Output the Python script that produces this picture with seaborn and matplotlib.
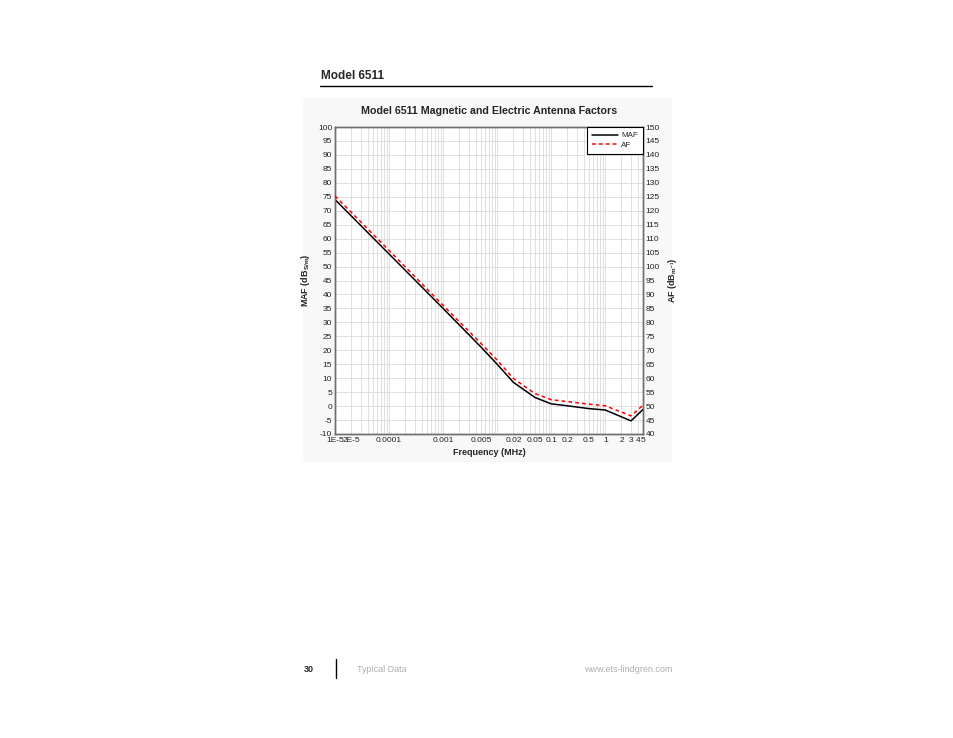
import numpy as np
import pandas as pd
import matplotlib
matplotlib.use("Agg")
import matplotlib.pyplot as plt
import matplotlib.ticker as mticker
from matplotlib.patches import Rectangle
from matplotlib.lines import Line2D
import seaborn as sns

# data
freq_mhz = [1e-5, 1e-4, 1e-3, 0.005, 0.01, 0.02, 0.05, 0.1, 0.2, 0.5, 1, 3, 5]
maf_db = [74.0, 54.5, 35.0, 21.2, 15.0, 8.5, 3.1, 0.8, 0.1, -0.9, -1.4, -5.3, -1.2]
af_db = [125.3, 105.8, 86.1, 72.5, 66.5, 59.9, 54.5, 52.3, 51.6, 50.7, 50.1, 46.5, 50.3]

xtick_vals = [1e-5, 2e-5, 1e-4, 1e-3, 0.005, 0.02, 0.05, 0.1, 0.2, 0.5, 1, 2, 3, 4, 5]
xtick_labels = ["1E-5", "2E-5", "0.0001", "0.001", "0.005", "0.02", "0.05",
                "0.1", "0.2", "0.5", "1", "2", "3", "4", "5"]

df = pd.DataFrame({"freq": freq_mhz, "MAF": maf_db, "AF": af_db})

sns.set_style("white")
plt.rcParams["font.family"] = ["Liberation Sans", "DejaVu Sans"]
plt.rcParams["axes.unicode_minus"] = False
plt.rcParams["mathtext.fontset"] = "custom"
plt.rcParams["mathtext.rm"] = "Liberation Sans:bold"
plt.rcParams["mathtext.it"] = "Liberation Sans:bold"

fig = plt.figure(figsize=(9.54, 7.38), dpi=100)

# page elements
fig.text(321 / 954, 1 - 76 / 738, "Model 6511", fontsize=8.5, fontweight="bold",
         va="center", ha="left")
fig.add_artist(Line2D([320 / 954, 652 / 954], [1 - 86 / 738] * 2, color="black", lw=1))
fig.add_artist(Rectangle((303 / 954, 1 - 462 / 738), 369 / 954, 364 / 738,
                         facecolor="#f8f8f8", edgecolor="none", zorder=-5))
fig.text(309 / 954, 1 - 669 / 738, "30", fontsize=6.5, fontweight="bold",
         va="center", ha="center")
fig.add_artist(Line2D([336 / 954] * 2, [1 - 659 / 738, 1 - 678 / 738], color="black", lw=1))
fig.text(357 / 954, 1 - 669 / 738, "Typical Data", fontsize=6.5, color="#b0b0b0",
         va="center", ha="left")
fig.text(672 / 954, 1 - 669 / 738, "www.ets-lindgren.com", fontsize=6.5, color="#b0b0b0",
         va="center", ha="right")

ax = fig.add_axes([335 / 954, 1 - 434 / 738, 308 / 954, 307 / 738])
ax.set_facecolor("white")
ax2 = ax.twinx()

sns.lineplot(data=df, x="freq", y="MAF", ax=ax, color="black", lw=1.1, zorder=4)
sns.lineplot(data=df, x="freq", y="AF", ax=ax2, color="red", lw=1.1,
             linestyle=(0, (2.5, 2)), zorder=4)

ax.set_xscale("log")
ax.set_xlim(1e-5, 5)
ax.set_ylim(-10, 100)
ax2.set_ylim(40, 150)
ax.set_yticks(np.arange(-10, 101, 5))
ax2.set_yticks(np.arange(40, 151, 5))

ax.xaxis.set_major_locator(mticker.FixedLocator(xtick_vals))
ax.xaxis.set_major_formatter(mticker.FixedFormatter(xtick_labels))
ax.xaxis.set_minor_locator(mticker.NullLocator())

# grid: horizontal each 5, vertical at log minors
for y in np.arange(-5, 100, 5):
    ax.axhline(y, color="#dadada", lw=0.6, zorder=1)
for dec in range(-5, 1):
    for m in range(1, 10):
        v = m * 10.0 ** dec
        if 1e-5 < v < 5:
            ax.axvline(v, color="#dadada", lw=0.6, zorder=1)

for a in (ax, ax2):
    for s in a.spines.values():
        s.set_color("#6e6e6e")
        s.set_linewidth(1.0)
    a.tick_params(length=0, labelsize=6, pad=2, colors="#222222")

ax.set_xlabel("Frequency (MHz)", fontsize=6.5, fontweight="bold", labelpad=3)
ax.set_ylabel(r"MAF (dB$_{S/m}$)", fontsize=6.5, fontweight="bold", labelpad=4)
ax2.set_ylabel(r"AF (dB$_{m^{-1}}$)", fontsize=6.5, fontweight="bold", labelpad=4, rotation=90)
ax.set_title("Model 6511 Magnetic and Electric Antenna Factors", fontsize=7.7,
             fontweight="bold", pad=9)

handles = [Line2D([], [], color="black", lw=1.1),
           Line2D([], [], color="red", lw=1.1, linestyle=(0, (2.5, 2)))]
leg = ax2.legend(handles, ["MAF", "AF"], loc="upper right", borderaxespad=0,
                 fontsize=5.8, fancybox=False, framealpha=1, edgecolor="black",
                 handlelength=3.2, handletextpad=0.4, borderpad=0.6, labelspacing=0.25)
leg.get_frame().set_linewidth(0.8)
leg.set_zorder(10)

fig.savefig("out.png", dpi=100)
